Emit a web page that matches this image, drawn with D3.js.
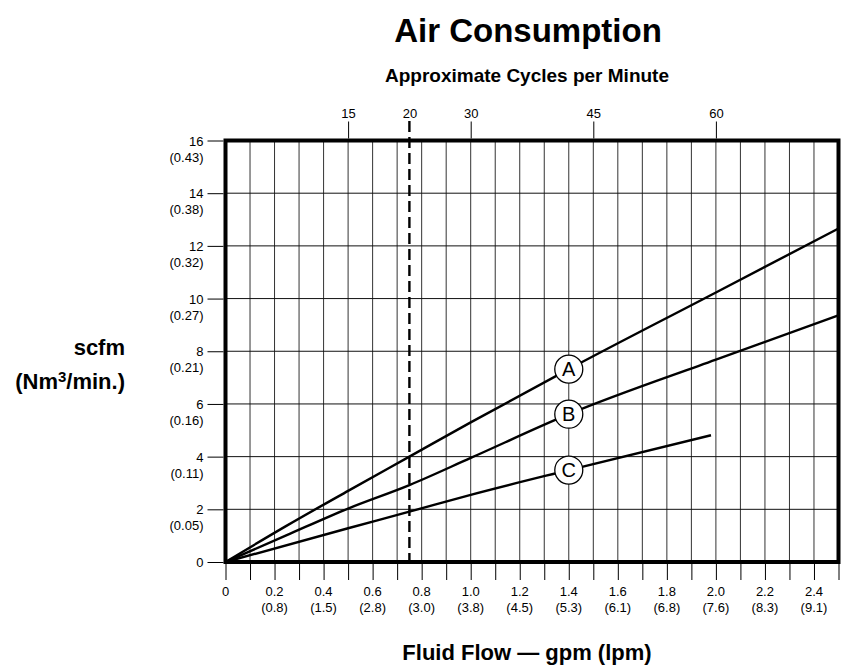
<!DOCTYPE html>
<html>
<head>
<meta charset="utf-8">
<script src="https://cdn.jsdelivr.net/npm/d3@7"></script>
<style>
  html, body { margin: 0; padding: 0; background: #fff; }
  svg { display: block; font-family: "Liberation Sans", Arial, sans-serif; }
</style>
</head>
<body>
<svg id="chart" width="845" height="665"></svg>
<script>
// values

// scfm axis (left), with the Nm3/min. values printed under each number
const scfmTicks = [0, 2, 4, 6, 8, 10, 12, 14, 16];
const nm3Labels = ['', '(0.05)', '(0.11)', '(0.16)', '(0.21)', '(0.27)', '(0.32)', '(0.38)', '(0.43)'];

// gpm axis (bottom), with lpm under each number
const gpmTicks = [0, 0.2, 0.4, 0.6, 0.8, 1.0, 1.2, 1.4, 1.6, 1.8, 2.0, 2.2, 2.4];
const gpmLabels = ['0', '0.2', '0.4', '0.6', '0.8', '1.0', '1.2', '1.4', '1.6', '1.8', '2.0', '2.2', '2.4'];
const lpmLabels = ['', '(0.8)', '(1.5)', '(2.8)', '(3.0)', '(3.8)', '(4.5)', '(5.3)', '(6.1)', '(6.8)', '(7.6)', '(8.3)', '(9.1)'];

// cycles per minute (top) and the flow they sit at
const cycleLabels = ['15', '20', '30', '45', '60'];
const cycleFlow = [0.5, 0.75, 1.0, 1.5, 2.0];
const markedCycleFlow = 0.75; // dashed line at 20 cpm

// curves A, B, C: flow (gpm) -> air (scfm)
const flowA = [0, 0.25, 0.5, 0.75, 1.0, 1.4, 2.0, 2.5];
const airA = [0, 1.38, 2.70, 4.0, 5.3, 7.32, 10.23, 12.66];
const flowB = [0, 0.25, 0.5, 0.75, 1.0, 1.4, 2.0, 2.5];
const airB = [0, 1.02, 2.03, 2.92, 3.95, 5.61, 7.68, 9.36];
const flowC = [0, 0.5, 0.75, 1.0, 1.4, 1.98];
const airC = [0, 1.28, 1.91, 2.55, 3.49, 4.81];

const curveNames = ['A', 'B', 'C'];
const labelFlow = 1.4;

// layout
const svg = d3.select('#chart');
const plotL = 225.5, plotR = 838.5, plotT = 140.5, plotB = 562;

const x = d3.scaleLinear().domain([0, 2.5]).range([plotL, plotR]);
const y = d3.scaleLinear().domain([0, 16]).range([plotB, plotT]);

// titles
svg.append('text')
  .attr('x', 528).attr('y', 42)
  .attr('text-anchor', 'middle')
  .attr('font-size', 33).attr('font-weight', 'bold')
  .text('Air Consumption');

svg.append('text')
  .attr('x', 527).attr('y', 82)
  .attr('text-anchor', 'middle')
  .attr('font-size', 19).attr('font-weight', 'bold')
  .text('Approximate Cycles per Minute');

svg.append('text')
  .attr('x', 527).attr('y', 660)
  .attr('text-anchor', 'middle')
  .attr('font-size', 22).attr('font-weight', 'bold')
  .text('Fluid Flow \u2014 gpm (lpm)');

const yTitle = svg.append('text')
  .attr('text-anchor', 'end')
  .attr('font-size', 22).attr('font-weight', 'bold');
yTitle.append('tspan').attr('x', 125).attr('y', 355).text('scfm');
const t2 = yTitle.append('tspan').attr('x', 125).attr('y', 389);
t2.append('tspan').text('(Nm');
t2.append('tspan').attr('font-size', 15).attr('dy', -7).text('3');
t2.append('tspan').attr('dy', 7).text('/min.)');

// grid
const grid = svg.append('g');
const minorX = d3.range(1, 25).map(i => i / 10);
grid.selectAll('line.v')
  .data(minorX)
  .join('line')
  .attr('x1', d => x(d)).attr('x2', d => x(d))
  .attr('y1', plotT).attr('y2', plotB)
  .attr('stroke', '#333').attr('stroke-width', 1);

grid.selectAll('line.h')
  .data(scfmTicks.slice(1, -1))
  .join('line')
  .attr('x1', plotL).attr('x2', plotR)
  .attr('y1', d => y(d)).attr('y2', d => y(d))
  .attr('stroke', '#111').attr('stroke-width', 1);

// curves
const line = d3.line()
  .x(d => x(d[0]))
  .y(d => y(d[1]))
  .curve(d3.curveMonotoneX);

const curves = [
  d3.zip(flowA, airA),
  d3.zip(flowB, airB),
  d3.zip(flowC, airC)
];

svg.append('g')
  .selectAll('path')
  .data(curves)
  .join('path')
  .attr('d', line)
  .attr('fill', 'none')
  .attr('stroke', '#000')
  .attr('stroke-width', 2.4);

// dashed line at 20 cpm
svg.append('line')
  .attr('x1', x(markedCycleFlow)).attr('x2', x(markedCycleFlow))
  .attr('y1', 121).attr('y2', plotB)
  .attr('stroke', '#000')
  .attr('stroke-width', 2.4)
  .attr('stroke-dasharray', '11 5');

// circle labels on the curves
const labelAt = curves.map(c => {
  const hit = c.find(d => d[0] === labelFlow);
  return hit[1];
});

const marks = svg.append('g')
  .selectAll('g')
  .data(curveNames)
  .join('g')
  .attr('transform', (d, i) => `translate(${x(labelFlow)},${y(labelAt[i])})`);
marks.append('circle')
  .attr('r', 14)
  .attr('fill', '#fff')
  .attr('stroke', '#000')
  .attr('stroke-width', 1.3);
marks.append('text')
  .attr('text-anchor', 'middle')
  .attr('dy', '0.36em')
  .attr('font-size', 20)
  .text(d => d);

// frame
svg.append('rect')
  .attr('x', plotL).attr('y', plotT)
  .attr('width', plotR - plotL).attr('height', plotB - plotT)
  .attr('fill', 'none')
  .attr('stroke', '#000')
  .attr('stroke-width', 4);

// left axis
const yAxis = svg.append('g')
  .attr('transform', `translate(${plotL - 2},0)`)
  .call(d3.axisLeft(y).tickValues(scfmTicks).tickSize(16).tickPadding(4))
  .call(g => g.select('.domain').remove());
yAxis.selectAll('.tick line').attr('stroke', '#000');
yAxis.selectAll('.tick text')
  .attr('font-size', 13)
  .attr('font-family', '"Liberation Sans", Arial, sans-serif')
  .attr('fill', '#000')
  .attr('dy', null)
  .each(function(d, i) {
    const t = d3.select(this);
    t.text(null);
    t.append('tspan').attr('x', -20).attr('y', 0).attr('dy', '0.35em').text(d);
    if (nm3Labels[i]) {
      t.append('tspan').attr('x', -20).attr('y', 16).attr('dy', '0.35em').text(nm3Labels[i]);
    }
  });

// bottom axis: tick every 0.1, numbers every 0.2
const xAxis = svg.append('g')
  .attr('transform', `translate(0,${plotB + 2})`)
  .call(d3.axisBottom(x)
    .tickValues(d3.range(0, 26).map(i => i / 10))
    .tickSize(16)
    .tickPadding(4)
    .tickFormat(() => ''))
  .call(g => g.select('.domain').remove());
xAxis.selectAll('.tick line').attr('stroke', '#000');

const xLab = svg.append('g')
  .attr('font-size', 13)
  .attr('text-anchor', 'middle');
xLab.selectAll('text.g')
  .data(gpmTicks)
  .join('text')
  .attr('class', 'g')
  .attr('x', d => x(d)).attr('y', 596)
  .text((d, i) => gpmLabels[i]);
xLab.selectAll('text.l')
  .data(gpmTicks)
  .join('text')
  .attr('class', 'l')
  .attr('x', d => x(d)).attr('y', 612)
  .text((d, i) => lpmLabels[i]);

// top axis: cycles per minute
const topAxis = svg.append('g')
  .attr('transform', `translate(0,${plotT - 2})`)
  .call(d3.axisTop(x)
    .tickValues(cycleFlow)
    .tickSize(17)
    .tickPadding(4)
    .tickFormat((d, i) => cycleLabels[i]))
  .call(g => g.select('.domain').remove());
topAxis.selectAll('.tick line')
  .attr('stroke', d => d === markedCycleFlow ? 'none' : '#000');
topAxis.selectAll('.tick text')
  .attr('font-size', 13)
  .attr('font-family', '"Liberation Sans", Arial, sans-serif')
  .attr('fill', '#000');
</script>
</body>
</html>
